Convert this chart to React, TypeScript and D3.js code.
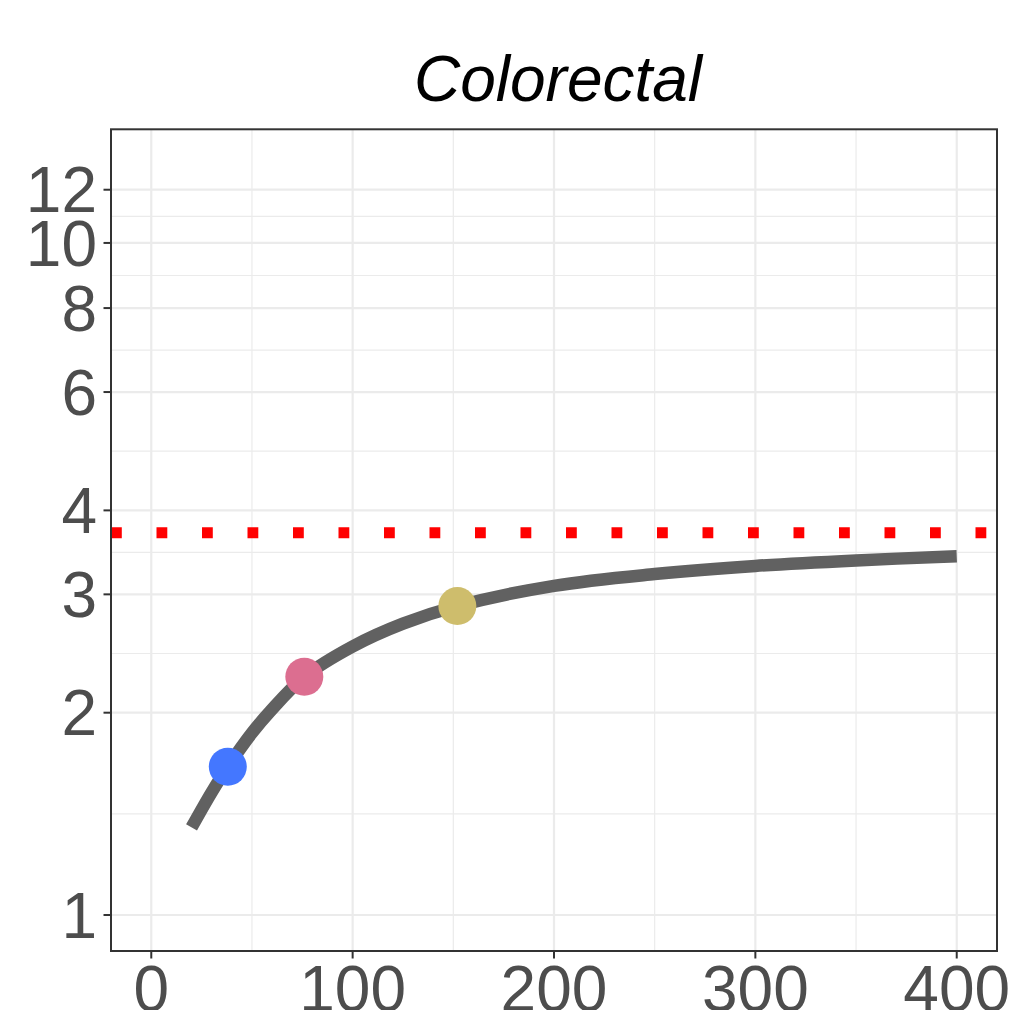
import React from "react";
import * as d3 from "d3";

const TITLE = "Colorectal";
const curveX = [20, 30, 38, 50, 59, 76, 100, 125, 152, 200, 250, 300, 350, 400];
const curveY = [1.35, 1.523, 1.662, 1.866, 2.008, 2.261, 2.509, 2.713, 2.882, 3.089, 3.216, 3.307, 3.37, 3.418];
const pointX = [38, 76, 152];
const pointY = [1.662, 2.262, 2.882];
const pointColors = ["#4477FF", "#DC6E90", "#CEBD6C"];
const hlineY = 3.705;
const xTicks = [0, 100, 200, 300, 400];
const xMinor = [50, 150, 250, 350];
const yTicks = [1, 2, 3, 4, 6, 8, 10, 12];

const W = 1022;
const H = 1010;
const panel = { left: 111, right: 997, top: 129.3, bottom: 951 };

export default function App() {
  const x = d3.scaleLinear().domain([-20, 420]).range([panel.left, panel.right]);
  const y = d3.scaleLog().domain([0.884, 14.76]).range([panel.bottom, panel.top]);

  const yMinor: number[] = [];
  for (let i = 0; i < yTicks.length - 1; i++) {
    yMinor.push(Math.sqrt(yTicks[i] * yTicks[i + 1]));
  }

  const data = curveX.map((v, i) => [v, curveY[i]] as [number, number]);
  const line = d3
    .line<[number, number]>()
    .x((d) => x(d[0]))
    .y((d) => y(d[1]))
    .curve(d3.curveCatmullRom.alpha(0.5));

  const font = "'Liberation Sans', Arial, Helvetica, sans-serif";

  return (
    <svg
      width={W}
      height={H}
      style={{ position: "absolute", left: 0, top: 0, background: "#fff" }}
    >
      <rect x={0} y={0} width={W} height={H} fill="#fff" />
      {xMinor.map((t) => (
        <line key={"xm" + t} x1={x(t)} x2={x(t)} y1={panel.top} y2={panel.bottom} stroke="#EBEBEB" strokeWidth={1.2} />
      ))}
      {yMinor.map((t) => (
        <line key={"ym" + t} x1={panel.left} x2={panel.right} y1={y(t)} y2={y(t)} stroke="#EBEBEB" strokeWidth={1.2} />
      ))}
      {xTicks.map((t) => (
        <line key={"xg" + t} x1={x(t)} x2={x(t)} y1={panel.top} y2={panel.bottom} stroke="#EBEBEB" strokeWidth={2.2} />
      ))}
      {yTicks.map((t) => (
        <line key={"yg" + t} x1={panel.left} x2={panel.right} y1={y(t)} y2={y(t)} stroke="#EBEBEB" strokeWidth={2.2} />
      ))}
      <line
        x1={panel.left}
        x2={panel.right}
        y1={y(hlineY)}
        y2={y(hlineY)}
        stroke="#FF0000"
        strokeWidth={11}
        strokeDasharray="10.8 34.7"
      />
      <path d={line(data) || ""} fill="none" stroke="#616161" strokeWidth={12.5} strokeLinecap="butt" />
      {pointX.map((v, i) => (
        <circle key={"p" + i} cx={x(v)} cy={y(pointY[i])} r={19} fill={pointColors[i]} />
      ))}
      <rect
        x={panel.left}
        y={panel.top}
        width={panel.right - panel.left}
        height={panel.bottom - panel.top}
        fill="none"
        stroke="#333333"
        strokeWidth={2}
      />
      {yTicks.map((t) => (
        <g key={"yt" + t}>
          <line x1={panel.left - 7.5} x2={panel.left} y1={y(t)} y2={y(t)} stroke="#333333" strokeWidth={2} />
          <text
            x={97}
            y={y(t)}
            dy="0.355em"
            textAnchor="end"
            fontFamily={font}
            fontSize={64}
            fill="#4D4D4D"
          >
            {t}
          </text>
        </g>
      ))}
      {xTicks.map((t) => (
        <g key={"xt" + t}>
          <line x1={x(t)} x2={x(t)} y1={panel.bottom} y2={panel.bottom + 7.5} stroke="#333333" strokeWidth={2} />
          <text
            x={x(t)}
            y={1011}
            textAnchor="middle"
            fontFamily={font}
            fontSize={64}
            fill="#4D4D4D"
          >
            {t}
          </text>
        </g>
      ))}
      <text
        x={(panel.left + panel.right) / 2 + 4}
        y={101}
        textAnchor="middle"
        fontFamily={font}
        fontStyle="italic"
        fontSize={64}
        fill="#000"
      >
        {TITLE}
      </text>
    </svg>
  );
}
